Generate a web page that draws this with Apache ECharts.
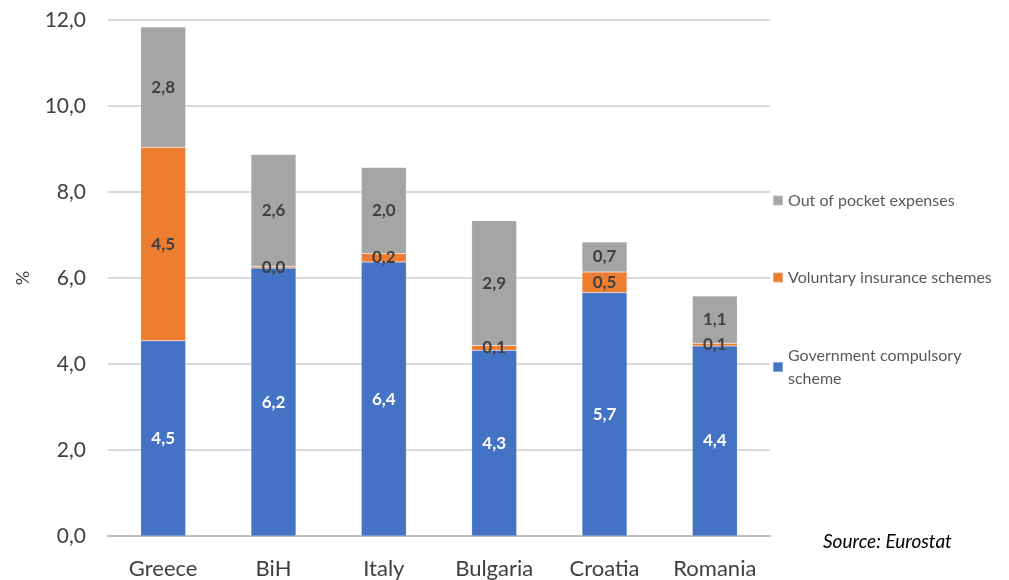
<!DOCTYPE html>
<html><head><meta charset="utf-8">
<script src="https://cdn.jsdelivr.net/npm/echarts@6/dist/echarts.min.js"></script>
<style>html,body{margin:0;padding:0;background:#fff}#c{width:1009px;height:580px}</style>
</head><body><div id="c"></div>
<script>
const categories = ['Greece', 'BiH', 'Italy', 'Bulgaria', 'Croatia', 'Romania'];
const govValues = [4.54, 6.23, 6.37, 4.32, 5.66, 4.42];
const volValues = [4.5, 0.04, 0.2, 0.11, 0.48, 0.06];
const oopValues = [2.8, 2.6, 2.0, 2.9, 0.7, 1.1];
const seriesNames = ['Government compulsory scheme', 'Voluntary insurance schemes', 'Out of pocket expenses'];
const colors = ['#4472C4', '#ED7D31', '#A5A5A5'];
const font = 'Lato, "Open Sans", sans-serif';
const fmt = v => v.toFixed(1).replace('.', ',');

const chart = echarts.init(document.getElementById('c'), null, {renderer: 'canvas'});
function mk(name, data, color, labelColor) {
  return {
    name, type: 'bar', stack: 'total', data, barWidth: 45,
    itemStyle: {color, borderColor: 'rgba(255,255,255,0.35)', borderWidth: 0.5},
    label: {show: true, position: 'inside', formatter: p => fmt(p.value),
      color: labelColor, fontWeight: 'bold', fontSize: 17, fontFamily: font},
    emphasis: {disabled: true}
  };
}
const legendBase = {orient: 'vertical', left: 767, itemWidth: 10, itemHeight: 10, itemGap: 4,
  textStyle: {color: '#595959', fontSize: 16, fontFamily: font, lineHeight: 23}, icon: 'rect', selectedMode: false};
chart.setOption({
  animation: false,
  grid: {left: 108, right: 239, top: 20, bottom: 44},
  xAxis: {type: 'category', data: categories,
    axisLine: {lineStyle: {color: '#BFBFBF', width: 2}}, axisTick: {show: false},
    axisLabel: {color: '#404040', fontSize: 22, fontFamily: font, margin: 22}},
  yAxis: {type: 'value', min: 0, max: 12, interval: 2,
    name: '%', nameLocation: 'middle', nameGap: 76, nameRotate: 90,
    nameTextStyle: {color: '#404040', fontSize: 18, fontFamily: font},
    axisLine: {show: false}, axisTick: {show: false},
    axisLabel: {color: '#404040', fontSize: 21, fontFamily: font, margin: 22, formatter: v => fmt(v)},
    splitLine: {lineStyle: {color: '#D9D9D9', width: 2}}},
  legend: [
    Object.assign({}, legendBase, {top: 184, data: [seriesNames[2]]}),
    Object.assign({}, legendBase, {top: 261, data: [seriesNames[1]]}),
    Object.assign({}, legendBase, {top: 339, data: [seriesNames[0]],
      formatter: n => 'Government compulsory\nscheme'})
  ],
  graphic: [{type: 'text', left: 823, top: 532,
    style: {text: 'Source: Eurostat', font: 'italic 19px ' + font, fill: '#000'}}],
  series: [
    mk(seriesNames[0], govValues, colors[0], '#ffffff'),
    mk(seriesNames[1], volValues, colors[1], '#404040'),
    mk(seriesNames[2], oopValues, colors[2], '#404040')
  ]
});
</script></body></html>
